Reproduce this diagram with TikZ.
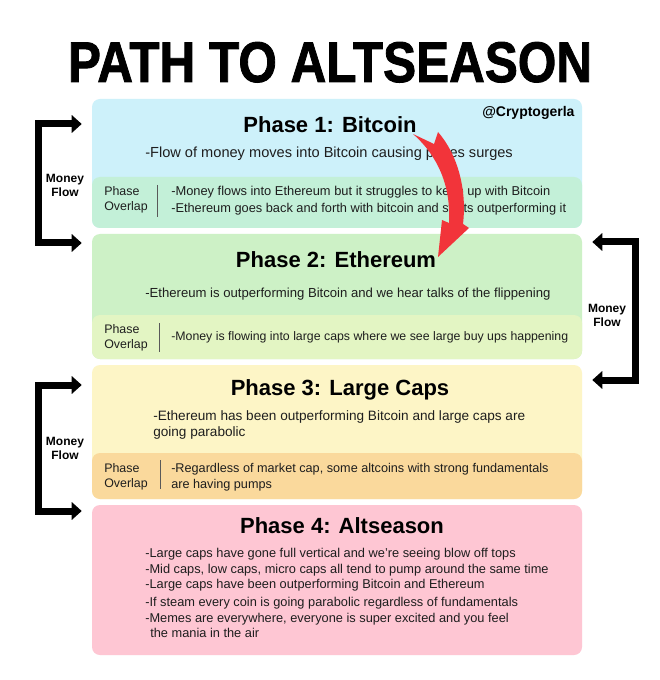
\documentclass[tikz,border=0pt]{standalone}
\usepackage{fontspec}
\setmainfont{Liberation Sans}
\newfontfamily\titlefont{Liberation Sans Bold}[FakeBold=1.6]
\usetikzlibrary{arrows.meta,calc}
\definecolor{pOneMain}{HTML}{CDF1FA}
\definecolor{pOneOver}{HTML}{C3F0D8}
\definecolor{pTwoMain}{HTML}{CDF1C6}
\definecolor{pTwoOver}{HTML}{E3F5C3}
\definecolor{pThreeMain}{HTML}{FDF5C6}
\definecolor{pThreeOver}{HTML}{FAD99C}
\definecolor{pFourMain}{HTML}{FEC6D3}
\definecolor{arrowRed}{HTML}{F2343A}
\definecolor{textDark}{HTML}{1E1E1E}
\begin{document}
\begin{tikzpicture}[x=0.75pt,y=-0.75pt,
  box/.style={rectangle, rounded corners=6pt, inner sep=0pt, minimum width=367.5pt},
  ttl/.style={font=\bfseries\fontsize{16.5}{18}\selectfont, anchor=base, inner sep=0pt, text=black},
  bodytxt/.style={anchor=base west, inner sep=0pt, text=textDark},
  olab/.style={font=\fontsize{9.3}{11}\selectfont, anchor=base west, inner sep=0pt, text=textDark},
  mflab/.style={font=\bfseries\fontsize{9}{11}\selectfont, anchor=base, inner sep=0pt, text=black},
  flow/.style={line width=5.25pt, line join=miter, draw=black,
    {Triangle[length=7.5pt,width=13pt]}-{Triangle[length=7.5pt,width=13pt]}},
  divider/.style={draw=black!65, line width=0.6pt}]
\useasboundingbox[fill=white] (0,0) rectangle (659,680);

% main title
\node[anchor=base, inner sep=0pt] (title) at (330,82)
  {\resizebox{393pt}{30pt}{\titlefont PATH TO ALTSEASON}};

% phase boxes
\node[box, fill=pOneMain, minimum height=96.75pt] (p1) at (337,163.5) {};
\node[box, fill=pOneOver, minimum height=38.25pt] (p1o) at (337,202.5) {};
\node[box, fill=pTwoMain, minimum height=93.75pt] (p2) at (337,296.5) {};
\node[box, fill=pTwoOver, minimum height=33pt] (p2o) at (337,337) {};
\node[box, fill=pThreeMain, minimum height=100.5pt] (p3) at (337,432) {};
\node[box, fill=pThreeOver, minimum height=34.5pt] (p3o) at (337,476) {};
\node[box, fill=pFourMain, minimum height=112.5pt] (p4) at (337,580) {};

% phase 1
\node[ttl] (t1) at (330,133) {Phase 1: Bitcoin};
\node[anchor=base west, inner sep=0pt, font=\bfseries\fontsize{10.5}{12}\selectfont] (handle) at (482,117) {@Cryptogerla};
\node[bodytxt, font=\fontsize{10.95}{13}\selectfont] (b1) at (145,158) {-Flow of money moves into Bitcoin causing prices surges};
\node[olab] (o1a) at (104,196) {Phase};
\node[olab] (o1b) at (104,211) {Overlap};
\draw[divider] (157,185) -- (157,217);
\node[bodytxt, font=\fontsize{9.65}{12}\selectfont] (o1t1) at (171,196) {-Money flows into Ethereum but it struggles to keep up with Bitcoin};
\node[bodytxt, font=\fontsize{9.6}{12}\selectfont] (o1t2) at (171,213) {-Ethereum goes back and forth with bitcoin and starts outperforming it};

% phase 2
\node[ttl] (t2) at (336,268) {Phase 2: Ethereum};
\node[bodytxt, font=\fontsize{9.85}{12}\selectfont] (b2) at (145,297) {-Ethereum is outperforming Bitcoin and we hear talks of the flippening};
\node[olab] (o2a) at (104,333) {Phase};
\node[olab] (o2b) at (104,348) {Overlap};
\draw[divider] (159,323) -- (159,352);
\node[bodytxt, font=\fontsize{9.25}{12}\selectfont] (o2t1) at (171,340) {-Money is flowing into large caps where we see large buy ups happening};

% phase 3
\node[ttl] (t3) at (340,395) {Phase 3: Large Caps};
\node[bodytxt, font=\fontsize{10.2}{12}\selectfont] (b3a) at (153,420) {-Ethereum has been outperforming Bitcoin and large caps are};
\node[bodytxt, font=\fontsize{10.2}{12}\selectfont] (b3b) at (153,436) {going parabolic};
\node[olab] (o3a) at (104,472) {Phase};
\node[olab] (o3b) at (104,487) {Overlap};
\draw[divider] (160,460) -- (160,489);
\node[bodytxt, font=\fontsize{9.5}{12}\selectfont] (o3t1) at (171,472) {-Regardless of market cap, some altcoins with strong fundamentals};
\node[bodytxt, font=\fontsize{9.5}{12}\selectfont] (o3t2) at (171,488) {are having pumps};

% phase 4
\node[ttl] (t4) at (342,533) {Phase 4: Altseason};
\begin{scope}[every node/.append style={font=\fontsize{9.6}{12}\selectfont}]
\node[bodytxt] (b4a) at (145,557) {-Large caps have gone full vertical and we're seeing blow off tops};
\node[bodytxt] (b4b) at (145,573) {-Mid caps, low caps, micro caps all tend to pump around the same time};
\node[bodytxt] (b4c) at (145,588) {-Large caps have been outperforming Bitcoin and Ethereum};
\node[bodytxt] (b4d) at (145,606) {-If steam every coin is going parabolic regardless of fundamentals};
\node[bodytxt] (b4e) at (145,622) {-Memes are everywhere, everyone is super excited and you feel};
\node[bodytxt] (b4f) at (150,637) {the mania in the air};
\end{scope}

% money flow brackets
\coordinate (m1a) at (38.5,124);
\coordinate (m1b) at (38.5,243);
\draw[flow] ($(p1.west |- m1a)+(-10,0)$) -- (m1a) -- (m1b) -- ($(p2.west |- m1b)+(-10,0)$);
\node[mflab] (mf1a) at (65,183) {Money};
\node[mflab] (mf1b) at (65,197) {Flow};

\coordinate (m2a) at (635,242);
\coordinate (m2b) at (635,380);
\draw[flow] ($(p2.east |- m2a)+(10,0)$) -- (m2a) -- (m2b) -- ($(p3.east |- m2b)+(10,0)$);
\node[mflab] (mf2a) at (607,312) {Money};
\node[mflab] (mf2b) at (607,326) {Flow};

\coordinate (m3a) at (38.5,385);
\coordinate (m3b) at (38.5,511);
\draw[flow] ($(p3.west |- m3a)+(-10,0)$) -- (m3a) -- (m3b) -- ($(p4.west |- m3b)+(-10,0)$);
\node[mflab] (mf3a) at (65,445) {Money};
\node[mflab] (mf3b) at (65,459) {Flow};

% red curved arrow
\fill[arrowRed] (413,134) -- (434,144) -- (438,132)
  .. controls (458,155) and (467,190) .. (463,224)
  -- (469,228) -- (438,257) -- (442,220) -- (449,223)
  .. controls (451,186) and (438,156) .. cycle;
\end{tikzpicture}
\end{document}
